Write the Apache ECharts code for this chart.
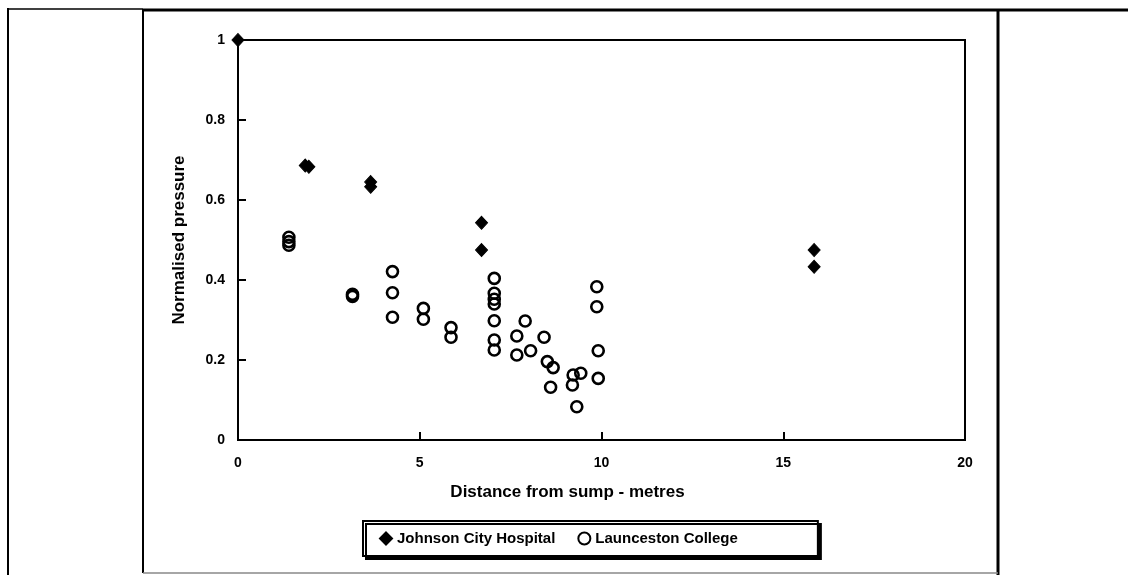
<!DOCTYPE html>
<html>
<head>
<meta charset="utf-8">
<script src="https://cdn.jsdelivr.net/npm/echarts@6/dist/echarts.min.js"></script>
<style>
  html, body { margin: 0; padding: 0; background: #fff; }
  #chart { width: 1128px; height: 575px; }
</style>
</head>
<body>
<div id="chart"></div>
<script>
// Johnson City Hospital (filled diamonds)
const jchDistance = [0, 1.85, 1.95, 3.65, 3.65, 6.7, 6.7, 15.85, 15.85];
const jchPressure = [1, 0.686, 0.683, 0.645, 0.633, 0.543, 0.475, 0.475, 0.433];

// Launceston College (open circles)
const lcDistance = [1.4, 1.4, 1.4, 3.15, 3.15, 4.25, 4.25, 4.25, 5.1, 5.1, 5.86, 5.86,
  7.05, 7.05, 7.05, 7.05, 7.05, 7.05, 7.05, 7.9, 7.67, 7.67, 8.05, 8.42, 8.51, 8.67,
  8.6, 9.22, 9.43, 9.2, 9.32, 9.87, 9.87, 9.91, 9.91];
const lcPressure = [0.507, 0.496, 0.487, 0.364, 0.359, 0.421, 0.368, 0.307, 0.329, 0.302, 0.281, 0.257,
  0.404, 0.367, 0.352, 0.34, 0.298, 0.25, 0.225, 0.2975, 0.26, 0.2125, 0.223, 0.257, 0.196, 0.181,
  0.132, 0.1625, 0.167, 0.1375, 0.083, 0.383, 0.333, 0.223, 0.154];

const xTicks = [0, 5, 10, 15, 20];
const yTicks = [0, 0.2, 0.4, 0.6, 0.8, 1];

const pairs = (xs, ys) => xs.map((x, i) => [x, ys[i]]);
const font = "'Liberation Sans', Arial, sans-serif";

const myChart = echarts.init(document.getElementById("chart"), null, { renderer: "canvas" });

// frame lines of the page table around the chart
const line = (x1, y1, x2, y2, w, c) => ({
  type: "line",
  shape: { x1, y1, x2, y2 },
  style: { stroke: c || "#000", lineWidth: w },
  silent: true,
});

const options = {
  backgroundColor: "#fff",
  animation: false,
  textStyle: { fontFamily: font },
  grid: {
    left: 238,
    right: 163,
    top: 40,
    bottom: 135,
    show: true,
    borderColor: "#000",
    borderWidth: 2,
  },
  legend: {
    left: 363,
    top: 521,
    padding: [10, 80, 10, 16],
    itemGap: 22,
    itemWidth: 12,
    itemHeight: 12,
    borderColor: "#000",
    borderWidth: 2,
    backgroundColor: "#fff",
    shadowColor: "#000",
    shadowBlur: 0,
    shadowOffsetX: 3,
    shadowOffsetY: 3,
    textStyle: { fontFamily: font, fontSize: 15, fontWeight: "bold", color: "#000" },
    data: ["Johnson City Hospital", "Launceston College"],
  },
  xAxis: {
    type: "value",
    min: 0,
    max: 20,
    interval: 5,
    name: "Distance from sump - metres",
    nameLocation: "middle",
    nameGap: 44,
    nameTextStyle: { fontFamily: font, fontSize: 17, fontWeight: "bold", color: "#000", padding: [0, 68, 0, 0] },
    axisLine: { show: true, onZero: false, lineStyle: { color: "#000", width: 2 } },
    axisTick: { show: true, inside: true, length: 8, lineStyle: { color: "#000", width: 2 } },
    axisLabel: {
      margin: 16,
      color: "#000",
      fontSize: 14,
      fontWeight: "bold",
      fontFamily: font,
      formatter: (v) => (xTicks.includes(v) ? String(v) : ""),
    },
    splitLine: { show: false },
  },
  yAxis: {
    type: "value",
    min: 0,
    max: 1,
    interval: 0.2,
    name: "Normalised pressure",
    nameLocation: "middle",
    nameGap: 50,
    nameTextStyle: { fontFamily: font, fontSize: 17, fontWeight: "bold", color: "#000" },
    axisLine: { show: true, onZero: false, lineStyle: { color: "#000", width: 2 } },
    axisTick: { show: true, inside: true, length: 8, lineStyle: { color: "#000", width: 2 } },
    axisLabel: {
      margin: 13,
      color: "#000",
      fontSize: 14,
      fontWeight: "bold",
      fontFamily: font,
      formatter: (v) => {
        const t = yTicks.find((k) => Math.abs(k - v) < 1e-9);
        return t === undefined ? "" : String(t);
      },
    },
    splitLine: { show: false },
  },
  graphic: [
    line(8, 8, 8, 575, 2),
    line(8, 9, 143, 9, 1.5),
    line(143, 10, 1128, 10, 3),
    line(143, 9, 143, 573, 2),
    line(998, 10, 998, 575, 3),
    line(143, 573, 998, 573, 1.5, "#888"),
  ],
  series: [
    {
      name: "Johnson City Hospital",
      type: "scatter",
      symbol: "diamond",
      symbolSize: [12, 13],
      clip: false,
      itemStyle: { color: "#000", borderColor: "#000", borderWidth: 1, opacity: 1 },
      data: pairs(jchDistance, jchPressure),
    },
    {
      name: "Launceston College",
      type: "scatter",
      symbol: "circle",
      symbolSize: 11,
      clip: false,
      itemStyle: { color: "rgba(255,255,255,0)", borderColor: "#000", borderWidth: 2.6, opacity: 1 },
      data: pairs(lcDistance, lcPressure),
    },
  ],
};

myChart.setOption(options);
</script>
</body>
</html>
